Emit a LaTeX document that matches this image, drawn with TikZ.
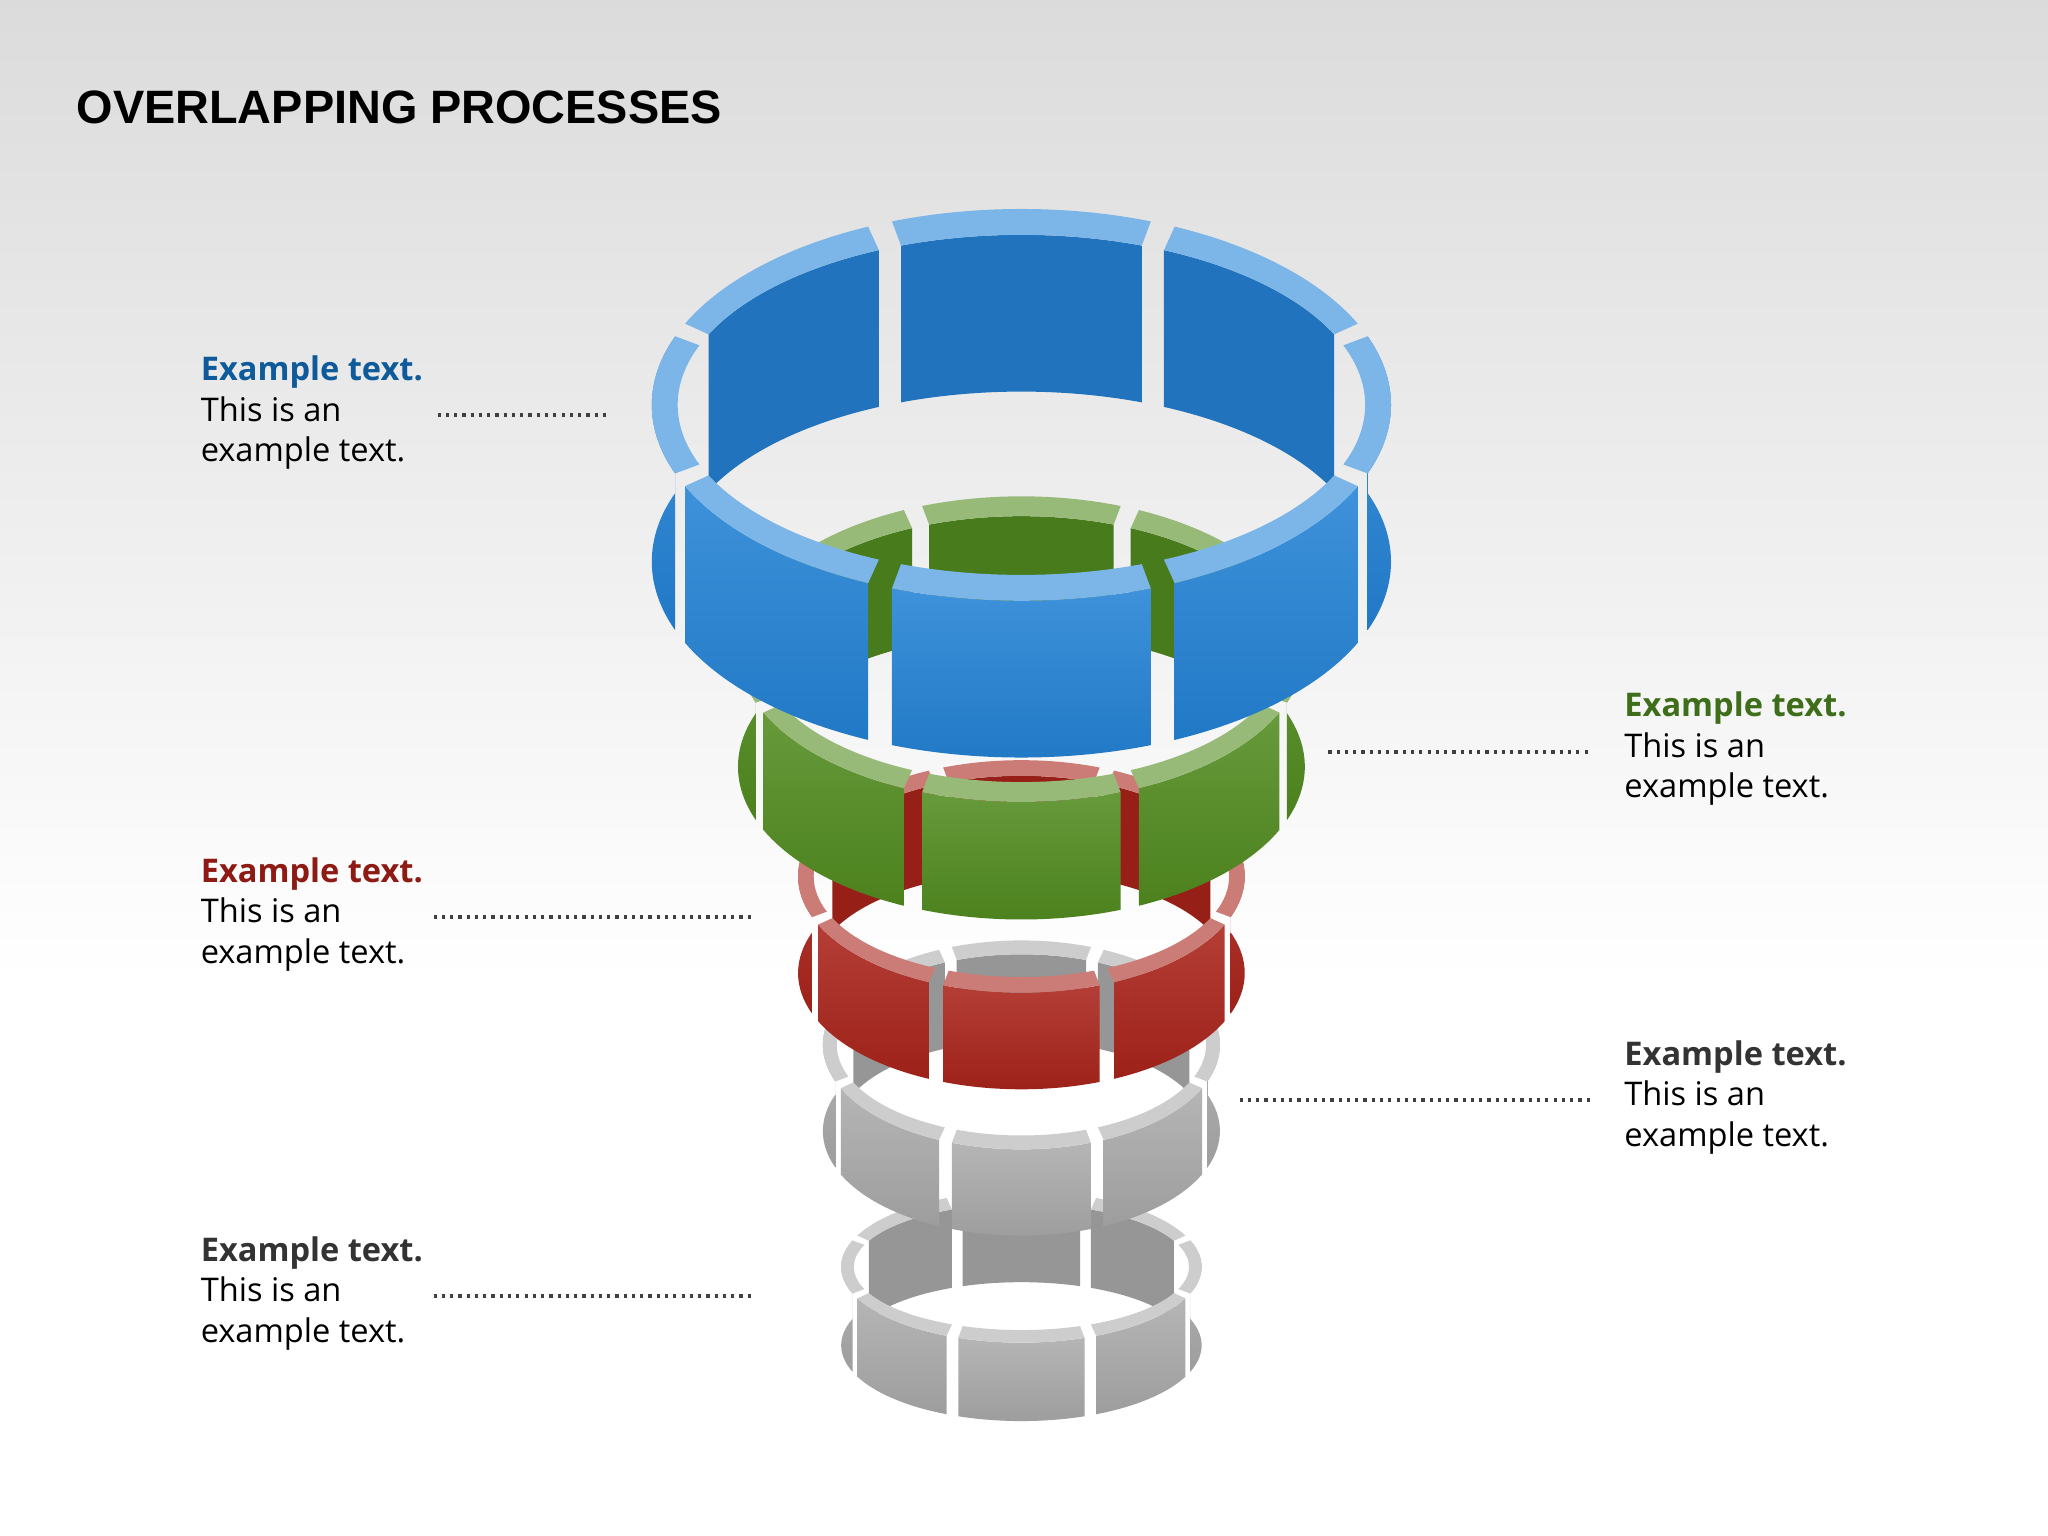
\documentclass[tikz,border=0pt]{standalone}
\usepackage{fontspec}
\setmainfont{Open Sans}
\newfontfamily\titlefont{Liberation Sans}
\definecolor{cblue}{HTML}{2483D6}
\definecolor{cgreen}{HTML}{528C20}
\definecolor{cred}{HTML}{AA241B}
\definecolor{cgray}{HTML}{ABABAB}
\definecolor{tblue}{HTML}{0E5A9A}
\definecolor{tgreen}{HTML}{3F6E1A}
\definecolor{tred}{HTML}{8E1A14}
\definecolor{tgray}{HTML}{333333}
\newcommand\myseg[1]{%
 \pgfmathsetmacro\a{#1-20.5}\pgfmathsetmacro\b{#1+20.5}}
\newcommand\mytop{%
 \fill[\col!60!white] ({\cx+\rx*cos(\a)},{\cy+\ry*sin(\a)}) arc[start angle=\a,end angle=\b,x radius=\rx,y radius=\ry] -- ({\cx+\irx*cos(\b)},{\cy+\iry*sin(\b)}) arc[start angle=\b,end angle=\a,x radius=\irx,y radius=\iry] -- cycle;}
\newcommand\myback[1]{\myseg{#1}%
 \fill[\col!88!black] ({\cx+\irx*cos(\a)},{\cy+\iry*sin(\a)}) arc[start angle=\a,end angle=\b,x radius=\irx,y radius=\iry] -- ++(0,-\hh) arc[start angle=\b,end angle=\a,x radius=\irx,y radius=\iry] -- cycle;
 \mytop}
\newcommand\myfront[1]{\myseg{#1}%
 \shade[top color=\col!88!white,bottom color=\col!92!black] ({\cx+\rx*cos(\a)},{\cy+\ry*sin(\a)}) arc[start angle=\a,end angle=\b,x radius=\rx,y radius=\ry] -- ++(0,-\hh) arc[start angle=\b,end angle=\a,x radius=\rx,y radius=\ry] -- cycle;
 \mytop}
\newcommand\myring[6]{%
 \def\cx{#1}\def\cy{#2}\def\rx{#3}\def\ry{#4}\def\hh{#5}\def\col{#6}%
 \pgfmathsetmacro\irx{#3*0.93}\pgfmathsetmacro\iry{#4-0.07*#3}%
 \foreach \c in {45,135,90}{\myback{\c}}%
 \foreach \c in {0,180,225,315,270}{\myfront{\c}}}
\tikzset{
 lbl/.style={anchor=north west,align=left,font=\fontsize{7.1}{8.8}\selectfont,text=black,inner sep=0pt},
 dots/.style={dash pattern=on 0.7pt off 1.1pt,line width=0.9pt,color=black!75}}
\begin{document}
\begin{tikzpicture}
\useasboundingbox (0,0) rectangle (15.68,-11.76);
\fill[white] (0,0) rectangle (15.68,-11.76);
\shade[top color=black!14,bottom color=white] (0,0) rectangle (15.68,-7.5);
\node[anchor=west,inner sep=0pt,font=\titlefont\bfseries\fontsize{10.2}{12}\selectfont] (title) at (0.58,-0.82) {OVERLAPPING PROCESSES};
% rings, bottom first
\myring{7.82}{-9.70}{1.38}{0.58}{0.60}{cgray}
\myring{7.82}{-8.00}{1.52}{0.80}{0.66}{cgray}
\myring{7.82}{-6.71}{1.71}{0.89}{0.74}{cred}
\myring{7.82}{-4.97}{2.17}{1.17}{0.90}{cgreen}
\myring{7.82}{-3.10}{2.83}{1.50}{1.20}{cblue}
% labels
\node[lbl] (t1) at (1.53,-2.72) {\textbf{\textcolor{tblue}{Example text.}}\\This is an\\example text.};
\node[lbl] (t2) at (12.43,-5.29) {\textbf{\textcolor{tgreen}{Example text.}}\\This is an\\example text.};
\node[lbl] (t3) at (1.53,-6.56) {\textbf{\textcolor{tred}{Example text.}}\\This is an\\example text.};
\node[lbl] (t4) at (12.43,-7.96) {\textbf{\textcolor{tgray}{Example text.}}\\This is an\\example text.};
\node[lbl] (t5) at (1.53,-9.46) {\textbf{\textcolor{tgray}{Example text.}}\\This is an\\example text.};
\coordinate (a1) at (3.35,-3.18); \coordinate (b1) at (4.65,-3.18);
\coordinate (a2) at (10.17,-5.76); \coordinate (b2) at (12.18,-5.76);
\coordinate (a3) at (3.32,-7.02); \coordinate (b3) at (5.78,-7.02);
\coordinate (a4) at (9.49,-8.42); \coordinate (b4) at (12.18,-8.42);
\coordinate (a5) at (3.32,-9.92); \coordinate (b5) at (5.78,-9.92);
\foreach \i in {1,...,5}{\draw[dots] (a\i) -- (b\i);}
\end{tikzpicture}
\end{document}
